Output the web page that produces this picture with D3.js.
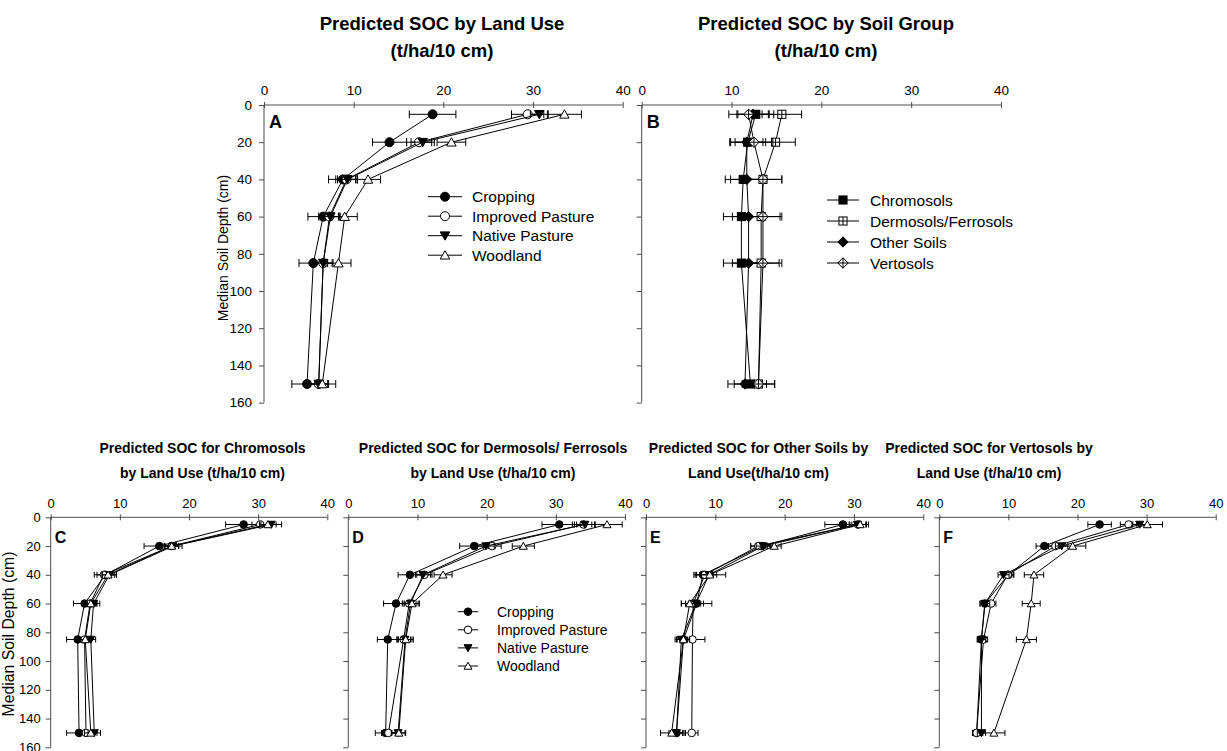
<!DOCTYPE html>
<html>
<head>
<meta charset="utf-8">
<script src="https://cdn.jsdelivr.net/npm/d3@7"></script>
<style>
  body { margin: 0; background: #fff; }
  svg { display: block; }
  text { font-family: "Liberation Sans", Arial, sans-serif; fill: #000; }
</style>
</head>
<body>
<svg id="fig" width="1227" height="751"></svg>
<script>
// ---- shared categories and ticks ----
const depths = [5, 20, 40, 60, 85, 150];               // median soil depth (cm)
const landUses = ["Cropping", "Improved Pasture", "Native Pasture", "Woodland"];
const soilGroups = ["Chromosols", "Dermosols/Ferrosols", "Other Soils", "Vertosols"];
const socTicks = [0, 10, 20, 30, 40];
const depthTicks = [0, 20, 40, 60, 80, 100, 120, 140, 160];

// ---- A: predicted SOC by land use (rows follow landUses) ----
const socA = [
  [18.8, 14.0, 8.8, 6.6, 5.5, 4.8],
  [29.4, 17.3, 9.2, 7.3, 6.6, 6.1],
  [30.7, 17.7, 9.3, 7.4, 6.6, 6.1],
  [33.5, 20.9, 11.6, 9.0, 8.3, 6.5]
];
const errA = [
  [2.6, 1.9, 1.6, 1.7, 1.6, 1.7],
  [1.8, 1.4, 1.2, 1.2, 1.1, 1.1],
  [1.0, 1.3, 1.1, 1.0, 1.0, 1.0],
  [1.9, 1.6, 1.4, 1.4, 1.4, 1.5]
];

// ---- B: predicted SOC by soil group (rows follow soilGroups) ----
const socB = [
  [12.7, 11.8, 11.3, 11.1, 11.1, 12.1],
  [15.6, 14.9, 13.5, 13.3, 13.3, 13.0],
  [12.4, 11.7, 11.7, 11.9, 11.9, 11.5],
  [11.9, 12.5, 13.5, 13.5, 13.5, 13.0]
];
const errB = [
  [2.0, 2.0, 2.0, 2.0, 2.0, 1.8],
  [2.2, 2.2, 2.1, 2.1, 2.0, 1.8],
  [1.8, 1.8, 1.8, 1.8, 1.8, 1.9],
  [2.2, 2.1, 2.1, 2.1, 2.1, 1.8]
];

// ---- C: Chromosols by land use ----
const socC = [
  [27.9, 15.7, 7.9, 4.9, 3.9, 4.1],
  [30.3, 17.5, 7.7, 5.7, 4.9, 5.1],
  [31.9, 17.7, 8.5, 6.2, 5.8, 6.3],
  [31.4, 17.5, 8.3, 5.8, 5.0, 5.8]
];
const errC = [
  [2.6, 2.2, 1.6, 1.6, 1.6, 1.8],
  [1.2, 1.0, 1.0, 0.9, 0.9, 0.9],
  [1.5, 1.3, 1.0, 0.9, 0.7, 0.9],
  [1.2, 1.0, 0.9, 0.9, 0.9, 0.9]
];

// ---- D: Dermosols/Ferrosols by land use ----
const socD = [
  [30.5, 18.2, 8.9, 6.9, 5.7, 5.4],
  [34.0, 20.8, 11.0, 8.8, 8.0, 5.8],
  [34.2, 19.9, 10.8, 9.0, 8.2, 7.2],
  [37.4, 25.3, 13.7, 9.2, 8.3, 7.3]
];
const errD = [
  [2.5, 2.1, 1.7, 1.8, 1.5, 1.5],
  [1.6, 1.3, 1.1, 1.0, 1.0, 1.0],
  [1.5, 1.2, 1.1, 1.1, 1.0, 1.0],
  [2.2, 1.6, 1.3, 1.1, 1.1, 1.0]
];

// ---- E: Other Soils by land use ----
const socE = [
  [28.4, 16.7, 8.2, 7.3, 5.4, 4.4],
  [30.6, 16.2, 8.5, 6.8, 6.7, 6.6],
  [30.5, 16.9, 9.1, 7.2, 5.1, 4.4],
  [30.9, 18.5, 9.2, 6.3, 5.4, 3.7]
];
const errE = [
  [2.6, 1.6, 1.1, 2.2, 1.0, 1.1],
  [1.2, 1.1, 1.2, 1.1, 1.8, 0.9],
  [1.2, 1.0, 1.1, 1.1, 0.9, 0.9],
  [1.2, 1.0, 2.3, 1.2, 0.9, 1.6]
];

// ---- F: Vertosols by land use ----
const socF = [
  [23.2, 15.2, 10.0, 6.6, 6.1, 5.4],
  [27.4, 16.8, 9.9, 7.5, 6.4, 5.4],
  [29.0, 17.7, 9.3, 6.6, 6.1, 6.1],
  [30.1, 19.3, 13.7, 13.3, 12.6, 7.9]
];
const errF = [
  [1.7, 1.2, 0.8, 0.7, 0.6, 0.6],
  [1.2, 1.0, 0.8, 0.7, 0.6, 0.6],
  [1.0, 0.9, 0.8, 0.7, 0.6, 0.6],
  [2.2, 1.9, 1.4, 1.3, 1.45, 1.6]
];

const svg = d3.select("#fig");
const AXIS = "#4d4d4d";

// Marker shapes drawn around (0,0) with half-size s
function marker(g, kind, s) {
  const fill = (k) => k ? "#000" : "#fff";
  switch (kind) {
    case "circleFilled":
    case "circleOpen":
      g.append("circle").attr("r", s).attr("fill", fill(kind === "circleFilled"))
        .attr("stroke", "#000").attr("stroke-width", 1);
      break;
    case "triDown":
      g.append("path").attr("d", `M${-s * 1.05},${-s * 0.85}L${s * 1.05},${-s * 0.85}L0,${s * 1.0}Z`)
        .attr("fill", "#000").attr("stroke", "#000").attr("stroke-width", 1);
      break;
    case "triUp":
      g.append("path").attr("d", `M${-s * 1.05},${s * 0.85}L${s * 1.05},${s * 0.85}L0,${-s * 1.0}Z`)
        .attr("fill", "#fff").attr("stroke", "#000").attr("stroke-width", 1);
      break;
    case "squareFilled":
      g.append("rect").attr("x", -s * 0.9).attr("y", -s * 0.9).attr("width", s * 1.8).attr("height", s * 1.8)
        .attr("fill", "#000").attr("stroke", "#000");
      break;
    case "squarePlus":
      g.append("rect").attr("x", -s * 0.9).attr("y", -s * 0.9).attr("width", s * 1.8).attr("height", s * 1.8)
        .attr("fill", "#fff").attr("stroke", "#000");
      g.append("path").attr("d", `M${-s * 0.9},0H${s * 0.9}M0,${-s * 0.9}V${s * 0.9}`).attr("stroke", "#000");
      break;
    case "diamondFilled":
      g.append("path").attr("d", `M0,${-s * 1.15}L${s * 1.15},0L0,${s * 1.15}L${-s * 1.15},0Z`)
        .attr("fill", "#000").attr("stroke", "#000");
      break;
    case "diamondPlus":
      g.append("path").attr("d", `M0,${-s * 1.15}L${s * 1.15},0L0,${s * 1.15}L${-s * 1.15},0Z`)
        .attr("fill", "#fff").attr("stroke", "#000");
      g.append("path").attr("d", `M${-s * 1.15},0H${s * 1.15}M0,${-s * 1.15}V${s * 1.15}`).attr("stroke", "#000");
      break;
  }
}

const landMarkers = ["circleFilled", "circleOpen", "triDown", "triUp"];
const soilMarkers = ["squareFilled", "squarePlus", "diamondFilled", "diamondPlus"];

function drawPanel(p) {
  const x = d3.scaleLinear().domain([0, 40]).range([p.left, p.right]);
  const y = d3.scaleLinear().domain([0, 160]).range([p.top, p.bottom]);
  const g = svg.append("g");

  // titles
  p.title.forEach((line, i) => {
    g.append("text").attr("x", p.titleX).attr("y", p.titleY + i * p.titleGap)
      .attr("text-anchor", "middle").attr("font-weight", "bold")
      .attr("font-size", p.titleSize).text(line);
  });

  // x axis along the top
  const xa = g.append("g").attr("transform", `translate(0,${p.top})`)
    .call(d3.axisTop(x).tickValues(socTicks).tickSize(3).tickPadding(p.xPad).tickFormat(d3.format("d")));
  xa.select(".domain").attr("stroke", AXIS).attr("d", `M${p.left},0H${p.right}`);
  xa.selectAll(".tick line").attr("stroke", AXIS).attr("y1", 3).attr("y2", -3);
  xa.selectAll(".tick text").attr("font-size", p.tickSize).attr("font-family", "Liberation Sans, Arial, sans-serif").attr("fill", "#000");

  // y axis (depth, increasing downward)
  const ya = g.append("g").attr("transform", `translate(${p.left},0)`)
    .call(d3.axisLeft(y).tickValues(depthTicks).tickSize(5).tickPadding(p.yPad)
      .tickFormat(p.yLabels ? d3.format("d") : () => ""));
  ya.select(".domain").attr("stroke", AXIS).attr("d", `M0,${p.top}V${p.bottom}`);
  ya.selectAll(".tick line").attr("stroke", AXIS);
  ya.selectAll(".tick text").attr("font-size", p.tickSize).attr("font-family", "Liberation Sans, Arial, sans-serif").attr("fill", "#000");

  if (p.yTitle) {
    g.append("text").attr("transform", `translate(${p.yTitleX},${p.yTitleY}) rotate(-90)`)
      .attr("text-anchor", "middle").attr("font-size", p.yTitleSize).text("Median Soil Depth (cm)");
  }

  // panel letter
  g.append("text").attr("x", p.left + p.letterDx).attr("y", p.top + p.letterDy)
    .attr("font-weight", "bold").attr("font-size", p.letterSize).text(p.letter);

  // series: error bars, connecting line, markers
  p.means.forEach((vals, si) => {
    const pts = vals.map((v, i) => ({ v, d: depths[i], e: p.errs[si][i] }));
    const sg = g.append("g");
    pts.forEach(pt => {
      const cy = y(pt.d), xl = x(pt.v - pt.e), xr = x(pt.v + pt.e);
      sg.append("path")
        .attr("d", `M${xl},${cy}H${xr}M${xl},${cy - p.cap}V${cy + p.cap}M${xr},${cy - p.cap}V${cy + p.cap}`)
        .attr("stroke", "#000").attr("stroke-width", 1).attr("fill", "none");
    });
    sg.append("path").datum(pts)
      .attr("d", d3.line().x(d => x(d.v)).y(d => y(d.d)))
      .attr("fill", "none").attr("stroke", "#000").attr("stroke-width", 1);
    pts.forEach(pt => {
      marker(sg.append("g").attr("transform", `translate(${x(pt.v)},${y(pt.d)})`), p.markers[si], p.ms);
    });
  });

  // legend
  if (p.legend) {
    const L = p.legend;
    p.names.forEach((name, i) => {
      const cy = L.y + i * L.gap;
      const lg = g.append("g");
      lg.append("line").attr("x1", L.x - L.half).attr("x2", L.x + L.half)
        .attr("y1", cy).attr("y2", cy).attr("stroke", "#000");
      marker(lg.append("g").attr("transform", `translate(${L.x},${cy})`), p.markers[i], p.ms);
      lg.append("text").attr("x", L.tx).attr("y", cy + L.size * 0.36)
        .attr("font-size", L.size).text(name);
    });
  }
}

const topCommon = {
  top: 105, bottom: 402.6, titleY: 30, titleGap: 27, titleSize: 18.5,
  tickSize: 13.5, xPad: 7, yPad: 7, letterDx: 5, letterDy: 23, letterSize: 18,
  ms: 4.5, cap: 4
};
const botCommon = {
  top: 517.3, bottom: 747.3, titleY: 453, titleGap: 25, titleSize: 14,
  tickSize: 13, xPad: 6, yPad: 5, letterDx: 4, letterDy: 26, letterSize: 16,
  ms: 3.8, cap: 3, names: landUses, markers: landMarkers
};

drawPanel(Object.assign({}, topCommon, {
  left: 264, right: 622.7, means: socA, errs: errA, names: landUses, markers: landMarkers,
  title: ["Predicted SOC by Land Use", "(t/ha/10 cm)"], titleX: 442, letter: "A",
  yLabels: true, yTitle: true, yTitleX: 228, yTitleY: 248, yTitleSize: 14,
  legend: { x: 445, half: 17, tx: 472, y: 196.7, gap: 19.5, size: 15.5 }
}));
drawPanel(Object.assign({}, topCommon, {
  left: 641.7, right: 1001, means: socB, errs: errB, names: soilGroups, markers: soilMarkers,
  title: ["Predicted SOC by Soil Group", "(t/ha/10 cm)"], titleX: 826, letter: "B",
  yLabels: false, yTitle: false,
  legend: { x: 843, half: 16, tx: 870, y: 200, gap: 21, size: 15.5 }
}));
drawPanel(Object.assign({}, botCommon, {
  left: 50.7, right: 327.3, means: socC, errs: errC,
  title: ["Predicted SOC for Chromosols", "by Land Use (t/ha/10 cm)"], titleX: 202.5, letter: "C",
  yLabels: true, yTitle: true, yTitleX: 14, yTitleY: 634, yTitleSize: 15.8
}));
drawPanel(Object.assign({}, botCommon, {
  left: 348.3, right: 625, means: socD, errs: errD,
  title: ["Predicted SOC for Dermosols/ Ferrosols", "by Land Use (t/ha/10 cm)"], titleX: 493, letter: "D",
  yLabels: false, yTitle: false,
  legend: { x: 468, half: 10, tx: 497, y: 611.7, gap: 18.1, size: 14 }
}));
drawPanel(Object.assign({}, botCommon, {
  left: 646, right: 923.3, means: socE, errs: errE,
  title: ["Predicted SOC for Other Soils by", "Land Use(t/ha/10 cm)"], titleX: 758.5, letter: "E",
  yLabels: false, yTitle: false
}));
drawPanel(Object.assign({}, botCommon, {
  left: 939.3, right: 1215.7, means: socF, errs: errF,
  title: ["Predicted SOC for Vertosols by", "Land Use (t/ha/10 cm)"], titleX: 989, letter: "F",
  yLabels: false, yTitle: false
}));
</script>
</body>
</html>
